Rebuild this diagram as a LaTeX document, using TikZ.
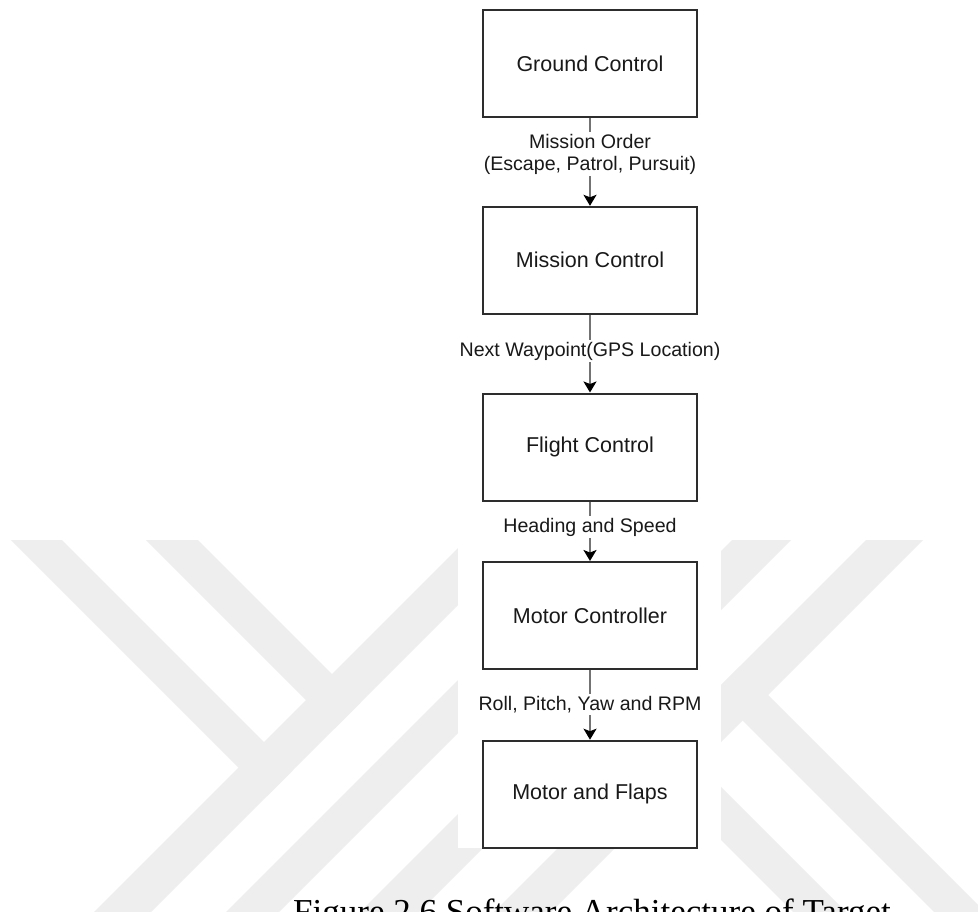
\documentclass[tikz,border=0pt]{standalone}
\usepackage{fontspec}
\setmainfont{Liberation Sans}
\newfontfamily\captionserif{Liberation Serif}
\usetikzlibrary{arrows.meta}
\definecolor{wmgray}{RGB}{238,238,238}
\definecolor{boxline}{RGB}{45,45,45}
\definecolor{linkgray}{RGB}{115,115,115}
\definecolor{inkc}{RGB}{25,25,25}

\begin{document}
\begin{tikzpicture}[x=1pt,y=-1pt,
  block/.style={draw=boxline, line width=2pt, fill=white,
    minimum width=214pt, minimum height=107pt, inner sep=0pt,
    text=inkc, font=\fontsize{21.5}{24}\selectfont},
  flow/.style={draw=linkgray, line width=1.8pt,
    -{Stealth[length=11pt,width=13pt,inset=2.5pt,color=black]}},
  flowlabel/.style={fill=white, text=inkc, inner sep=2pt, align=center,
    font=\fontsize{19.6}{22}\selectfont},
  band/.style={fill=wmgray, draw=none}]

% page frame
\clip (0,0) rectangle (978,912);
\fill[white] (0,0) rectangle (978,912);

% background emblem stripes
\fill[band] (11,540) -- (62,540) -- (292.5,770.5) -- (267,796) -- cycle;
\fill[band] (146,540) -- (198,540) -- (360.5,702.5) -- (334.5,728.5) -- cycle;
\fill[band] (76,930) -- (133,930) -- (523,540) -- (466,540) -- cycle;
\fill[band] (208,930) -- (261,930) -- (651,540) -- (598,540) -- cycle;
\fill[band] (342,930) -- (401,930) -- (791,540) -- (732,540) -- cycle;
\fill[band] (476,930) -- (533,930) -- (923,540) -- (866,540) -- cycle;
\fill[band] (739.5,666.5) -- (1010,937) -- (1010,988) -- (714,692) -- cycle;
\fill[band] (603,669) -- (870,936) -- (817,936) -- (576.5,695.5) -- cycle;

% white panel behind the chart
\fill[white] (458,0) rectangle (721,848);

% blocks
\node[block] (gc)   at (590,63.5)  {Ground Control};
\node[block] (mc)   at (590,260.3) {Mission Control};
\node[block] (fc)   at (590,447)   {Flight Control};
\node[block] (moc)  at (590,615.5) {Motor Controller};
\node[block] (mf)   at (590,794.2) {Motor and Flaps};

% data flow between blocks
\draw[flow] (gc) -- (mc)
  node[flowlabel, pos=0.41] {Mission Order\\(Escape, Patrol, Pursuit)};
\draw[flow] (mc) -- (fc)
  node[flowlabel, pos=0.47] {Next Waypoint(GPS Location)};
\draw[flow] (fc) -- (moc)
  node[flowlabel, pos=0.43] {Heading and Speed};
\draw[flow] (moc) -- (mf)
  node[flowlabel, pos=0.50] {Roll, Pitch, Yaw and RPM};

% caption
\node[anchor=base west, inner sep=0pt, text=black,
  font=\captionserif\fontsize{35}{40}\selectfont] (cap) at (293,923)
  {Figure 2.6 Software Architecture of Target};
\end{tikzpicture}
\end{document}
